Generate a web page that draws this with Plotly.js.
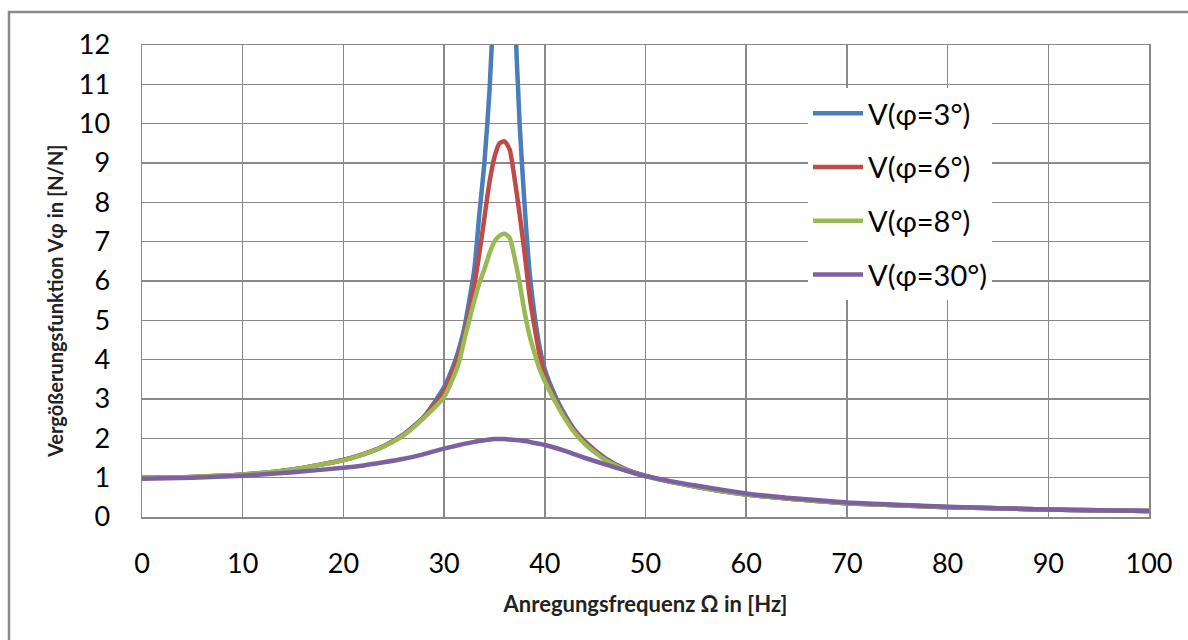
<!DOCTYPE html>
<html>
<head>
<meta charset="utf-8">
<script src="https://cdn.plot.ly/plotly-3.0.1.min.js"></script>
<style>
html,body{margin:0;padding:0;background:#fff;}
#chart{width:1188px;height:640px;}
</style>
</head>
<body>
<div id="chart"></div>
<script>
// Frequencies (Hz)
const freqs = [0, 5, 10, 15, 20, 22, 24, 26, 28, 30, 31, 31.5, 32, 33, 33.5, 34, 34.5, 35, 35.5, 36, 36.5, 37, 37.5, 38, 38.5, 39, 39.5, 40, 41, 42, 43, 44, 46, 48, 50, 55, 60, 65, 70, 75, 80, 85, 90, 95, 100];

// V(phi=3°) – peak runs off the top of the chart
const v3  = [1.00, 1.02, 1.08, 1.21, 1.45, 1.60, 1.80, 2.10, 2.55, 3.30, 3.90, 4.30, 4.80, 6.30, 7.70, 9.00, 10.8, 13.5, 17.0, 19.0, 17.0, 13.0, 10.0, 7.90, 6.20, 5.10, 4.30, 3.75, 3.10, 2.60, 2.20, 1.92, 1.50, 1.22, 1.05, 0.77, 0.57, 0.45, 0.35, 0.30, 0.25, 0.22, 0.19, 0.17, 0.15];
// V(phi=6°)
const v6  = [1.00, 1.02, 1.08, 1.21, 1.45, 1.60, 1.80, 2.10, 2.54, 3.20, 3.80, 4.15, 4.60, 5.90, 6.70, 7.60, 8.50, 9.15, 9.50, 9.55, 9.35, 8.60, 7.70, 6.70, 5.60, 4.80, 4.10, 3.60, 3.00, 2.55, 2.17, 1.90, 1.48, 1.21, 1.04, 0.77, 0.57, 0.45, 0.35, 0.30, 0.25, 0.22, 0.19, 0.17, 0.15];
// V(phi=8°)
const v8  = [1.00, 1.02, 1.08, 1.21, 1.44, 1.59, 1.79, 2.08, 2.52, 3.05, 3.60, 3.95, 4.50, 5.50, 5.95, 6.30, 6.70, 7.00, 7.15, 7.20, 7.10, 6.60, 5.95, 5.20, 4.60, 4.15, 3.75, 3.45, 2.95, 2.50, 2.13, 1.85, 1.45, 1.20, 1.04, 0.77, 0.57, 0.45, 0.35, 0.30, 0.25, 0.22, 0.19, 0.17, 0.15];
// V(phi=30°)
const v30 = [0.97, 1.00, 1.05, 1.14, 1.25, 1.31, 1.39, 1.48, 1.60, 1.74, 1.80, 1.83, 1.86, 1.91, 1.93, 1.95, 1.97, 1.98, 1.98, 1.98, 1.97, 1.96, 1.95, 1.93, 1.91, 1.88, 1.86, 1.83, 1.76, 1.68, 1.59, 1.50, 1.34, 1.18, 1.04, 0.80, 0.60, 0.47, 0.37, 0.31, 0.26, 0.22, 0.19, 0.17, 0.15];

const seriesNames  = ["V(\u03C6=3\u00B0)", "V(\u03C6=6\u00B0)", "V(\u03C6=8\u00B0)", "V(\u03C6=30\u00B0)"];
const seriesColors = ["#4A7EBB", "#BE4B48", "#98B954", "#7D60A0"];
const seriesData   = [v3, v6, v8, v30];

const xTicks = [0, 10, 20, 30, 40, 50, 60, 70, 80, 90, 100];
const yTicks = [0, 1, 2, 3, 4, 5, 6, 7, 8, 9, 10, 11, 12];

const traces = seriesData.map((ys, i) => ({
  type: "scatter",
  mode: "lines",
  x: freqs,
  y: ys,
  name: seriesNames[i],
  legendgroup: "g" + i,
  line: {color: seriesColors[i], width: 4.5, shape: "spline", smoothing: 0.6}
}));

const W = 1188, H = 640;
const L = 142, R = 39, T = 45, B = 123;
const pw = W - L - R, ph = H - T - B;
const px = p => (p - L) / pw;
const py = p => (H - B - p) / ph;

const gridCol = "#898989";
const layout = {
  width: W, height: H,
  margin: {l: L, r: R, t: T, b: B, pad: 0},
  paper_bgcolor: "#fff",
  plot_bgcolor: "#fff",
  font: {family: "Lato, 'Open Sans', sans-serif", color: "#000"},
  showlegend: true,
  legend: {
    x: px(808), y: py(88), xanchor: "left", yanchor: "top",
    bgcolor: "#fff", borderwidth: 0,
    font: {size: 29, family: "Lato, sans-serif", color: "#000"},
    itemwidth: 50, tracegroupgap: 13, traceorder: "grouped"
  },
  xaxis: {
    range: [0, 100], tickvals: xTicks, ticktext: xTicks.map(String),
    showgrid: true, gridcolor: gridCol, gridwidth: 1.5,
    showline: true, linecolor: gridCol, linewidth: 1.5, mirror: true,
    zeroline: false, ticks: "", ticklabelstandoff: 22,
    tickfont: {size: 27, family: "Lato, sans-serif", color: "#000"},
    title: {text: "<b>Anregungsfrequenz \u03A9 in [Hz]</b>", standoff: 18,
            font: {size: 22, family: "Lato, sans-serif", color: "#222"}}
  },
  yaxis: {
    range: [0, 12], tickvals: yTicks, ticktext: yTicks.map(String),
    showgrid: true, gridcolor: gridCol, gridwidth: 1.5,
    showline: true, linecolor: gridCol, linewidth: 1.5, mirror: true,
    zeroline: false, ticks: "", ticklabelstandoff: 25,
    tickfont: {size: 27, family: "Lato, sans-serif", color: "#000"}
  },
  annotations: [{
    xref: "paper", yref: "paper", x: px(55), y: py(301),
    xanchor: "center", yanchor: "middle", textangle: -90, showarrow: false,
    text: "<b>Vergößerungsfunktion V\u03C6 in [N/N]</b>",
    font: {size: 20, family: "Lato, sans-serif", color: "#222"}
  }],
  shapes: [{
    type: "rect", xref: "paper", yref: "paper",
    x0: px(9), x1: px(1200), y0: py(650), y1: py(12),
    line: {color: "#8a8a8a", width: 2.5}, fillcolor: "rgba(0,0,0,0)", layer: "below"
  }]
};

Plotly.newPlot("chart", traces, layout, {displayModeBar: false, staticPlot: true});
</script>
</body>
</html>
